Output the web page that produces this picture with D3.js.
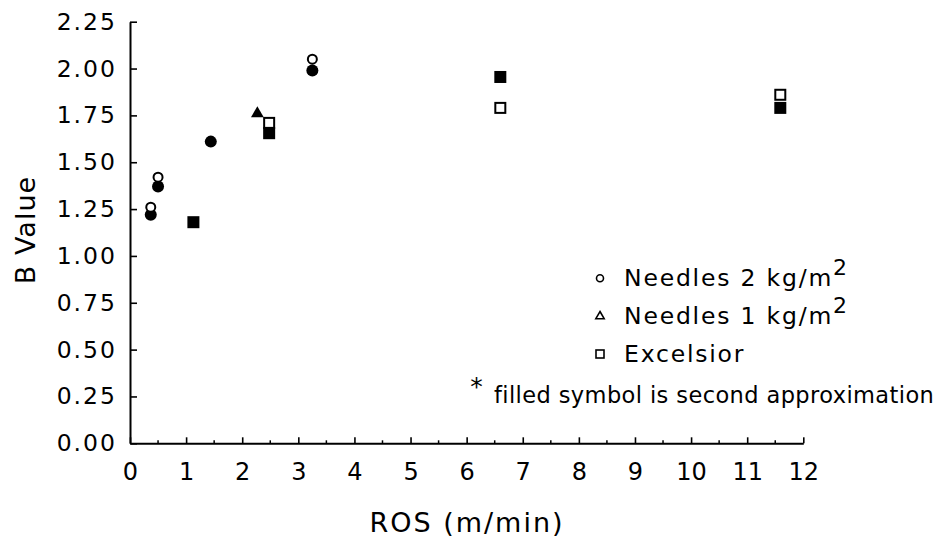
<!DOCTYPE html>
<html>
<head>
<meta charset="utf-8">
<script src="https://cdn.jsdelivr.net/npm/d3@7"></script>
<style>
  html, body { margin: 0; padding: 0; background: #fff; }
  svg { display: block; font-family: "DejaVu Sans", sans-serif; }
</style>
</head>
<body>
<svg id="chart" width="948" height="540"></svg>
<script>
// ---- data ----
const xTicks = [0,1,2,3,4,5,6,7,8,9,10,11,12];
const yTicks = [0,0.25,0.5,0.75,1.0,1.25,1.5,1.75,2.0,2.25];

const needles2OpenX   = [0.37, 0.50, 3.25];
const needles2OpenY   = [1.26, 1.42, 2.05];
const needles2FilledX = [0.37, 0.50, 1.44, 3.25];
const needles2FilledY = [1.22, 1.37, 1.61, 1.99];
const needles1FilledX = [2.27];
const needles1FilledY = [1.76];
const excelOpenX      = [2.48, 6.60, 11.59];
const excelOpenY      = [1.71, 1.79, 1.86];
const excelFilledX    = [1.13, 2.48, 6.60, 11.59];
const excelFilledY    = [1.18, 1.655, 1.955, 1.79];

const legendLabels = ["Needles 2 kg/m", "Needles 1 kg/m", "Excelsior"];
const legendSup    = ["2", "2", ""];
const footnote = "filled symbol is second approximation";
const xTitle = "ROS (m/min)";
const yTitle = "B Value";

// ---- layout ----
const svg = d3.select("#chart");
const x = d3.scaleLinear().domain([0, 12]).range([130, 803.3]);
const y = d3.scaleLinear().domain([0, 2.25]).range([443.3, 21.7]);

// axes
const xAxis = d3.axisBottom(x).tickValues(xTicks).tickSize(-6).tickSizeOuter(0)
  .tickPadding(20).tickFormat(d3.format("d"));
const gx = svg.append("g").attr("transform", `translate(0,${y(0)})`).call(xAxis);
gx.selectAll("text").attr("font-size", 24).attr("fill", "#000").attr("font-family", "DejaVu Sans");
gx.selectAll("line").attr("stroke", "#000").attr("stroke-width", 1.6);
gx.select(".domain").attr("stroke", "#000").attr("stroke-width", 2);

// minor x ticks
const minor = d3.range(0.5, 12, 1);
svg.append("g").selectAll("line").data(minor).join("line")
  .attr("x1", d => x(d)).attr("x2", d => x(d))
  .attr("y1", y(0)).attr("y2", y(0) - 3)
  .attr("stroke", "#000").attr("stroke-width", 1.5);

const yAxis = d3.axisLeft(y).tickValues(yTicks).tickSize(-7).tickSizeOuter(0)
  .tickPadding(13).tickFormat(d3.format(".2f"));
const gy = svg.append("g").attr("transform", `translate(${x(0)},0)`).call(yAxis);
gy.selectAll("text").attr("font-size", 23.5).attr("fill", "#000")
  .attr("letter-spacing", 2).attr("font-family", "DejaVu Sans");
gy.selectAll("line").attr("stroke", "#000").attr("stroke-width", 1.6);
gy.select(".domain").attr("stroke", "#000").attr("stroke-width", 2);

// axis titles
svg.append("text").attr("x", 467).attr("y", 531.5).attr("text-anchor", "middle")
  .attr("font-size", 27).attr("letter-spacing", 2).text(xTitle);
svg.append("text").attr("transform", "translate(35,230) rotate(-90)")
  .attr("text-anchor", "middle").attr("font-size", 27).attr("letter-spacing", 1).text(yTitle);

// ---- marks ----
const zip = (xs, ys) => xs.map((v, i) => ({x: v, y: ys[i]}));
const plot = svg.append("g");

const sq = 12;
plot.selectAll(".exf").data(zip(excelFilledX, excelFilledY)).join("rect")
  .attr("x", d => x(d.x) - sq/2).attr("y", d => y(d.y) - sq/2)
  .attr("width", sq).attr("height", sq).attr("fill", "#000");
plot.selectAll(".exo").data(zip(excelOpenX, excelOpenY)).join("rect")
  .attr("x", d => x(d.x) - (sq-2)/2).attr("y", d => y(d.y) - (sq-2)/2)
  .attr("width", sq-2).attr("height", sq-2).attr("fill", "#fff")
  .attr("stroke", "#000").attr("stroke-width", 2);

plot.selectAll(".n2f").data(zip(needles2FilledX, needles2FilledY)).join("circle")
  .attr("cx", d => x(d.x)).attr("cy", d => y(d.y)).attr("r", 6).attr("fill", "#000");
plot.selectAll(".n2o").data(zip(needles2OpenX, needles2OpenY)).join("circle")
  .attr("cx", d => x(d.x)).attr("cy", d => y(d.y)).attr("r", 4.5)
  .attr("fill", "#fff").attr("stroke", "#000").attr("stroke-width", 2);

const tri = d3.symbol().type(d3.symbolTriangle).size(70);
plot.selectAll(".n1f").data(zip(needles1FilledX, needles1FilledY)).join("path")
  .attr("transform", d => `translate(${x(d.x)},${y(d.y)})`)
  .attr("d", tri).attr("fill", "#000");

// ---- legend ----
const lg = svg.append("g");
const ly = [278.3, 316.3, 354];
lg.append("circle").attr("cx", 600).attr("cy", ly[0]).attr("r", 3.5)
  .attr("fill", "none").attr("stroke", "#000").attr("stroke-width", 1.6);
lg.append("path").attr("transform", `translate(600,${ly[1]})`)
  .attr("d", d3.symbol().type(d3.symbolTriangle).size(30))
  .attr("fill", "none").attr("stroke", "#000").attr("stroke-width", 1.6);
lg.append("rect").attr("x", 596).attr("y", ly[2] - 4).attr("width", 8).attr("height", 8)
  .attr("fill", "none").attr("stroke", "#000").attr("stroke-width", 1.6);

legendLabels.forEach((lab, i) => {
  const t = lg.append("text").attr("x", 624).attr("y", ly[i] + 8)
    .attr("font-size", 23.5).attr("letter-spacing", 1.8);
  t.append("tspan").text(lab);
  if (legendSup[i]) t.append("tspan").attr("dy", -11).attr("font-size", 22).text(legendSup[i]);
});

lg.append("text").attr("x", 476.5).attr("y", 395).attr("text-anchor", "middle")
  .attr("font-size", 25).text("*");
lg.append("text").attr("x", 494).attr("y", 403).attr("font-size", 22.5)
  .attr("letter-spacing", 0.4).text(footnote);
</script>
</body>
</html>
